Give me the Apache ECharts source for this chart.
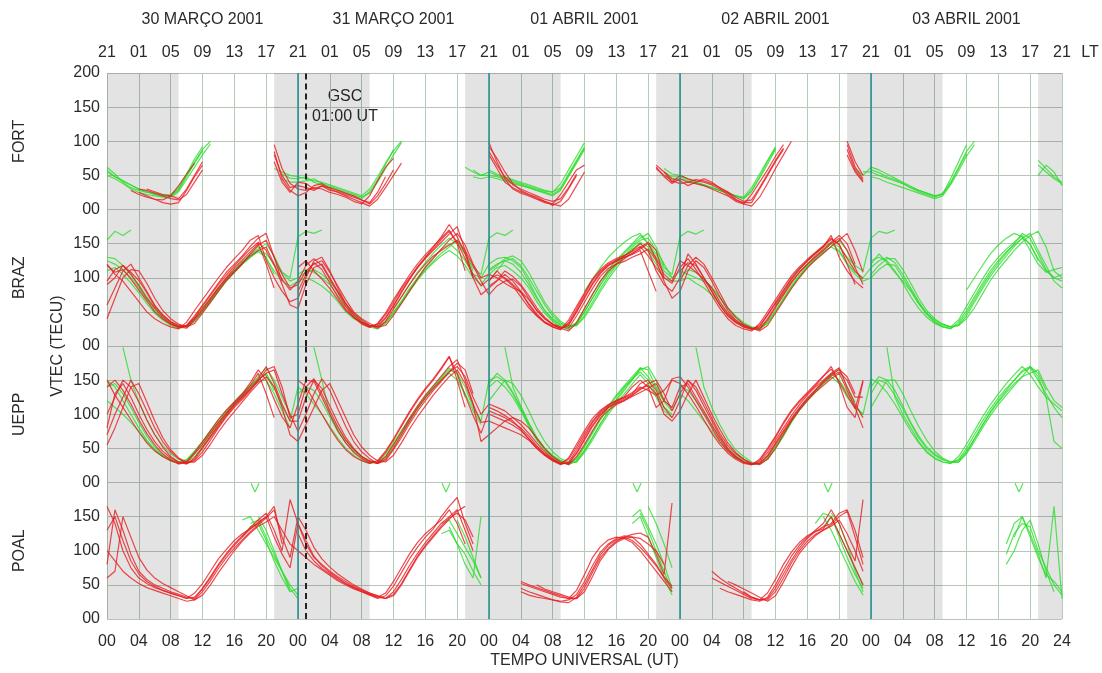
<!DOCTYPE html>
<html><head><meta charset="utf-8">
<script src="https://cdn.jsdelivr.net/npm/echarts@6/dist/echarts.min.js"></script>
<style>html,body{margin:0;padding:0;background:#fff}#c{width:1102px;height:673px}</style>
</head><body><div id="c"></div>
<script>
const _ = null;
const DAY_LABELS = ['30 MARÇO 2001','31 MARÇO 2001','01 ABRIL 2001','02 ABRIL 2001','03 ABRIL 2001'];
const DAY_CENTERS = [12,36,60,84,108];
const STATIONS = ['FORT','BRAZ','UEPP','POAL'];
const NIGHT = [[0,9],[21,33],[45,57],[69,81],[93,105],[117,120]];
const DAY_BOUNDS = [24,48,72,96];
const GSC_HOUR = 25;

// hourly VTEC values, one row per day (hour 0..23 of that day)
const FORT_RED = [
 [[_,_,_,28,22,18,15,14,20,35,52,68,_,_,_,_,_,_,_,_,_,95,60,38],
  [30,28,32,30,25,22,18,12,8,20,42,62,75,_,_,_,_,_,_,_,_,_,_,_],
  [98,70,45,30,24,20,15,10,8,22,40,58,65,_,_,_,_,_,_,_,_,60,50,42],
  [38,40,38,35,30,25,20,12,8,22,40,58,78,95,_,_,_,_,_,_,_,95,62,45]],
 [[_,_,_,_,25,20,15,10,8,10,28,48,65,_,_,_,_,_,_,_,_,85,45,28],
  [20,25,35,38,30,25,20,15,10,5,15,32,50,68,_,_,_,_,_,_,_,_,_,_],
  [92,75,55,38,28,22,18,12,8,5,15,35,55,_,_,_,_,_,_,_,_,_,55,45],
  [42,35,40,45,40,32,25,15,8,5,18,38,60,80,100,_,_,_,_,_,_,100,70,50]],
 [[_,_,_,_,_,30,26,22,20,16,30,50,70,_,_,_,_,_,_,_,_,70,40,25],
  [40,38,30,35,28,26,22,18,14,10,25,48,_,_,_,_,_,_,_,_,_,_,_,_],
  [80,60,40,32,26,22,16,12,6,12,30,50,_,_,_,_,_,_,_,_,_,65,55,40],
  [50,45,42,40,36,30,22,14,10,10,30,50,70,88,_,_,_,_,_,_,_,80,55,40]],
 [[_,_,_,_,30,28,24,20,16,14,22,40,58,_,_,_,_,_,_,_,_,80,50,32],
  [35,32,28,34,32,28,24,20,14,8,20,38,58,_,_,_,_,_,_,_,_,_,_,_],
  [85,65,48,36,30,25,20,15,12,16,32,52,_,_,_,_,_,_,_,_,_,62,48,38],
  [45,40,44,42,38,32,26,18,12,14,32,52,72,90,_,_,_,_,_,_,_,88,58,42]]
];
const FORT_GREEN = [
 [[62,52,40,32,28,25,24,22,20,30,50,70,88,100,_,_,_,_,_,_,_,60,55,50],
  [48,45,42,40,36,32,28,24,20,30,48,68,86,100,_,_,_,_,_,_,_,62,55,50],
  [55,50,46,42,38,34,30,27,25,38,58,78,98,_,_,_,_,_,_,_,_,_,50,45],
  [45,42,38,35,32,28,24,20,18,32,52,72,92,_,_,_,_,_,_,_,_,_,60,50],
  [62,58,52,46,40,34,28,24,20,22,45,70,95,_,_,_,_,_,_,_,_,72,60,48,40]],
 [[50,45,38,30,25,22,20,18,18,26,44,62,80,96,_,_,_,_,_,_,_,_,45,40],
  [40,42,45,38,34,30,26,22,18,24,40,60,80,98,_,_,_,_,_,_,_,_,48,45],
  [48,45,42,38,35,32,28,25,22,30,50,70,90,_,_,_,_,_,_,_,_,_,60,52],
  [50,45,40,36,32,28,24,20,16,26,46,66,88,_,_,_,_,_,_,_,_,_,_,55],
  [55,50,46,42,38,32,26,22,18,24,40,62,85,100,_,_,_,_,_,_,_,50,65,55,35]],
 [[58,48,42,36,30,26,22,20,22,32,52,74,92,_,_,_,_,_,_,_,_,_,_,_],
  [_,_,_,_,_,_,_,_,_,_,_,_,_,_,_,_,_,_,_,_,_,_,_,_],
  [58,52,48,44,40,36,32,28,26,32,52,72,92,_,_,_,_,_,_,_,_,_,_,_],
  [_,_,_,_,_,_,_,_,_,_,_,_,_,_,_,_,_,_,_,_,_,_,_,_],
  [48,45,40,36,32,28,24,20,16,20,36,56,78,95,_,_,_,_,_,_,_,_,_,_]],
 [[55,48,42,36,30,26,22,20,20,28,48,68,86,_,_,_,_,_,_,_,_,_,52,46],
  [45,48,40,36,32,28,24,20,16,26,44,66,88,_,_,_,_,_,_,_,_,_,58,50],
  [50,48,44,40,36,32,28,24,20,28,48,68,88,_,_,_,_,_,_,_,_,_,55,48],
  [48,44,40,36,32,28,24,20,16,28,48,70,90,_,_,_,_,_,_,_,_,_,_,_],
  [58,54,48,44,38,32,28,24,20,22,38,60,82,_,_,_,_,_,_,_,_,65,55,45,38]]
];
const BRAZ_RED = [
 [[95,112,118,105,88,70,55,42,33,28,30,42,58,74,90,104,117,130,142,152,140,118,98,82],
  [95,118,128,118,98,78,58,42,32,27,33,48,68,86,104,120,134,146,158,170,152,128,105,88],
  [98,104,100,90,78,62,47,35,28,24,38,58,78,98,112,122,128,133,138,146,132,115,100,92],
  [115,128,112,94,74,55,40,30,25,22,33,50,68,86,103,116,127,137,147,158,148,128,110,98]],
 [[120,105,95,80,65,50,40,33,28,25,35,52,68,84,100,115,128,140,155,162,125,100,80,65],
  [70,100,125,130,110,85,62,45,35,30,28,40,58,78,97,115,130,145,160,178,160,135,100,75],
  [85,95,105,95,80,60,45,35,30,26,30,50,72,92,108,118,125,132,140,150,140,110,90,80],
  [100,135,120,100,80,60,45,35,28,25,28,45,62,80,98,112,124,135,145,162,130,110,95,85]],
 [[60,85,110,120,100,80,60,45,35,28,26,38,52,68,84,98,110,122,132,140,145,120,90,60],
  [55,90,115,120,100,80,62,48,38,30,26,36,54,72,90,106,120,132,140,148,155,140,118,95],
  [75,88,95,98,88,70,52,40,32,28,26,44,64,84,102,114,120,124,130,135,142,125,95,70],
  [80,110,125,115,95,72,52,38,30,26,24,40,58,76,94,108,120,130,140,150,158,140,115,90]],
 [[40,70,100,112,110,92,70,52,40,32,28,33,48,64,80,96,108,120,135,148,155,130,105,85],
  [90,110,120,125,108,88,68,50,40,33,28,30,45,62,80,98,115,128,142,155,165,148,120,100],
  [105,100,92,85,80,68,52,40,32,26,22,34,55,76,95,110,120,128,136,142,150,128,105,95],
  [125,118,108,98,85,65,48,36,30,26,22,30,48,66,84,100,114,126,136,146,155,165,140,108]],
 [[118,108,112,98,82,66,50,40,32,27,29,40,54,70,86,100,114,126,138,150,120,85,_,_],
  [80,105,122,112,92,72,54,42,34,29,30,42,60,80,98,114,128,140,152,164,175,140,100,_],
  [95,110,98,88,72,56,44,34,28,24,34,54,76,96,110,120,126,130,134,140,110,80,_,_],
  [110,122,118,100,80,60,44,34,28,24,30,46,64,82,100,114,125,136,146,156,150,120,90,_]],
 [[90,100,118,108,96,78,58,46,36,30,30,44,60,76,92,108,120,132,146,158,165,130,95,_],
  [115,125,110,98,84,68,52,42,34,28,32,46,64,84,100,116,130,142,156,168,150,110,_,_],
  [88,96,110,102,90,74,56,42,32,26,32,50,70,90,106,118,124,130,135,144,152,140,100,_],
  [95,118,130,120,100,78,56,42,32,26,26,38,56,74,92,108,120,132,142,152,162,150,120,_]]
];
const BRAZ_GREEN = [
 [[155,168,162,170,_,_,_,_,_,_,_,_,50,64,80,95,108,120,130,140,135,120,108,100],
  [160,168,165,170,_,_,_,_,_,_,_,_,55,72,90,108,122,136,148,158,150,135,115,105],
  [158,166,162,170,_,_,_,_,_,_,_,_,80,98,115,130,142,152,160,165,150,135,115,105],
  [160,168,164,170,_,_,_,_,_,_,_,_,60,78,96,112,125,135,145,152,145,130,118,110],
  [158,168,165,170,_,_,_,_,_,_,_,_,82,100,118,135,148,158,165,160,140,120,108,112,115]],
 [[125,120,112,100,85,68,52,40,32,28,30,40,55,70,85,100,112,124,134,142,150,132,108,95],
  [100,108,112,105,95,80,62,47,36,30,28,36,50,66,84,100,116,130,142,150,140,125,105,100],
  [120,128,130,125,115,95,72,52,38,30,26,35,55,75,95,112,126,138,150,162,150,130,110,100],
  [110,105,100,95,85,70,55,42,32,27,25,36,52,70,88,104,118,130,140,150,140,122,108,100],
  [115,125,130,122,105,85,65,48,36,30,28,38,58,78,98,116,130,142,152,162,148,128,110,100,105]],
 [[110,115,105,92,78,62,48,38,30,26,28,38,50,66,82,96,110,122,134,146,128,110,95,88],
  [95,100,95,88,78,65,50,40,34,28,25,33,48,64,80,96,110,122,132,140,132,118,100,90],
  [105,115,118,110,100,85,65,48,36,28,24,32,50,70,90,106,120,132,142,150,138,120,100,95],
  [95,100,92,85,75,62,48,38,30,26,24,34,50,68,86,102,116,128,138,145,138,120,105,95],
  [100,112,120,118,100,82,62,46,35,28,25,35,52,72,92,110,125,138,148,158,165,140,118,95,85]],
 [[_,_,_,_,_,_,_,_,_,_,_,_,_,_,_,_,_,_,_,_,_,_,_,_],
  [_,_,_,_,_,_,_,_,_,_,_,_,_,_,_,_,_,_,_,_,_,_,_,_],
  [95,110,125,128,118,100,80,60,44,34,28,30,45,64,84,102,118,132,145,155,158,140,120,100],
  [_,_,_,_,_,_,_,_,_,_,_,_,_,_,_,_,_,_,_,_,_,_,_,_],
  [125,130,125,110,92,72,55,42,33,28,26,32,48,68,88,106,122,136,150,165,158,135,112,100,95]],
 [[130,128,118,105,90,72,56,44,35,30,28,36,50,66,82,96,108,120,130,138,130,105,_,_],
  [105,112,108,100,90,74,58,46,36,30,28,34,48,64,82,98,112,124,136,145,155,135,110,_],
  [112,120,125,120,108,90,70,52,40,32,28,33,50,70,90,108,122,136,148,158,165,145,118,_],
  [100,112,108,98,86,72,56,44,34,28,26,33,50,68,86,102,116,126,136,146,155,140,115,_],
  [105,118,128,128,112,92,70,52,40,32,28,30,44,64,84,102,118,132,146,158,150,125,_,_,_]],
 [[_,_,_,_,_,_,_,_,_,_,_,_,_,_,_,_,_,_,_,_,_,_,_,_],
  [_,_,_,_,_,_,_,_,_,_,_,_,_,_,_,_,_,_,_,_,_,_,_,_],
  [110,118,128,132,125,108,86,64,48,36,30,30,42,60,80,98,114,128,140,152,145,128,_,_],
  [_,_,_,_,_,_,_,_,_,_,_,_,_,_,_,_,_,_,_,_,_,_,_,_],
  [120,135,122,108,95,80,62,48,38,32,28,30,40,56,76,96,112,126,140,152,162,168,145,110,100]]
];
const UEPP_RED = [
 [[140,150,135,115,92,72,55,42,33,27,30,44,60,76,92,106,118,130,146,165,150,122,96,80],
  [115,150,148,125,100,76,58,44,35,29,30,44,62,82,102,120,136,150,166,184,160,128,98,72],
  [105,100,95,88,80,68,54,42,33,27,36,56,76,94,106,114,120,125,132,140,135,128,135,150],
  [145,130,112,92,72,56,43,34,28,26,34,50,68,88,106,120,132,144,156,166,148,128,108,150]],
 [[100,125,150,140,118,92,70,52,38,30,27,36,52,68,85,100,114,126,138,152,170,145,115,90],
  [90,125,150,138,112,88,66,50,38,31,28,38,55,74,94,112,128,142,156,170,180,150,115,88],
  [90,85,80,75,70,62,50,40,32,26,30,48,68,88,102,112,118,124,130,145,150,135,110,95],
  [120,150,135,112,90,68,50,38,30,26,30,44,62,80,98,114,128,140,150,160,168,140,115,95]],
 [[70,100,125,150,130,105,80,60,45,35,28,32,45,62,80,96,110,122,135,150,160,165,130,100],
  [75,100,130,152,135,108,82,60,45,35,28,32,48,66,86,104,120,135,148,162,170,155,125,100],
  [115,110,105,95,85,72,58,45,35,28,28,42,62,82,98,110,116,120,126,132,138,145,120,110],
  [140,145,125,105,84,64,48,38,30,27,28,38,56,74,92,108,122,134,146,156,162,150,125,125]],
 [[55,80,110,140,145,118,90,66,48,36,30,30,40,56,74,90,104,118,132,145,155,140,110,70],
  [60,85,110,135,145,120,95,70,52,40,32,30,40,58,78,96,112,128,142,155,165,145,115,60],
  [70,80,90,95,90,80,65,50,38,30,26,38,56,76,94,106,114,120,128,138,142,130,100,90],
  [105,130,150,125,100,78,58,44,34,28,26,34,50,70,90,106,120,132,142,152,160,135,110,80]],
 [[150,128,110,92,74,58,46,38,32,28,30,42,56,72,88,102,116,128,142,160,130,95,_,_],
  [150,140,120,100,80,62,48,38,32,28,32,46,64,84,104,122,138,152,168,185,150,110,_,_],
  [110,105,98,90,78,64,50,40,32,27,34,52,72,90,104,114,120,126,140,150,140,110,120,152],
  [155,140,120,100,80,60,46,36,30,26,32,48,66,86,104,118,130,142,155,170,145,110,95,148]],
 [[80,130,145,125,100,78,60,46,36,30,28,34,50,66,82,98,112,124,136,148,165,170,140,95],
  [100,140,152,130,105,82,62,48,38,32,28,34,50,70,90,108,124,138,150,162,175,165,130,_],
  [100,95,90,84,76,64,52,42,34,28,28,44,64,84,100,110,116,122,128,136,145,150,130,105],
  [130,150,140,118,94,72,54,42,34,28,28,40,58,76,94,110,124,136,148,158,166,155,130,_]]
];
const UEPP_GREEN = [
 [[_,_,198,150,118,92,70,54,42,34,30,38,52,68,84,100,114,126,140,155,168,150,125,100],
  [_,_,198,150,100,80,62,48,38,30,28,36,52,70,90,108,124,138,150,160,150,130,105,85],
  [_,_,198,140,112,88,66,50,38,30,27,36,54,74,94,112,128,142,155,168,155,138,120,110],
  [_,_,198,140,110,85,64,48,38,30,27,35,52,70,90,108,122,135,148,160,150,132,112,100],
  [_,_,198,125,100,80,60,46,36,30,28,38,56,76,96,114,130,145,158,170,158,140,125,115,105]],
 [[150,140,120,100,80,62,48,38,32,28,32,45,60,76,92,106,118,130,142,150,160,140,112,90],
  [140,130,115,100,82,65,50,40,32,28,30,42,58,76,94,110,126,140,152,165,160,140,110,90],
  [150,155,148,130,108,85,64,48,36,30,26,32,48,66,86,104,120,135,150,168,165,140,118,105],
  [130,120,105,90,75,60,46,36,30,27,28,38,54,72,90,106,120,132,144,155,145,125,110,100],
  [152,145,132,115,95,75,58,44,35,30,28,34,50,70,90,108,124,138,150,162,168,150,130,110,95]],
 [[120,110,100,88,75,60,48,38,32,30,34,46,60,74,88,102,114,126,138,148,150,130,105,80],
  [_,_,_,_,_,_,_,_,_,_,_,_,_,_,_,_,_,_,_,_,_,_,_,_],
  [140,150,140,125,105,82,62,48,38,32,28,34,52,72,92,110,126,140,152,162,150,130,110,100],
  [_,_,_,_,_,_,_,_,_,_,_,_,_,_,_,_,_,_,_,_,_,_,_,_],
  [130,150,145,128,108,86,65,50,40,33,30,32,46,64,84,102,118,132,145,155,160,165,140,120,110]],
 [[_,_,_,_,_,_,_,_,_,_,_,_,_,_,_,_,_,_,_,_,_,_,_,_],
  [_,_,_,_,_,_,_,_,_,_,_,_,_,_,_,_,_,_,_,_,_,_,_,_],
  [120,135,150,145,128,105,80,60,45,35,30,30,44,62,82,100,116,130,144,158,145,125,105,95],
  [_,_,_,_,_,_,_,_,_,_,_,_,_,_,_,_,_,_,_,_,_,_,_,_],
  [110,130,150,150,130,105,82,62,46,36,30,30,42,60,80,98,114,128,142,155,170,155,125,60,50]],
 [[140,145,130,110,88,68,52,40,34,30,32,42,56,72,88,104,118,130,142,152,158,135,_,_],
  [130,140,135,118,96,75,58,45,36,30,29,38,56,74,92,110,126,140,154,168,158,125,_,_],
  [145,160,150,132,110,86,65,50,40,32,28,30,46,66,86,104,122,138,152,165,170,150,120,_],
  [140,135,120,102,84,66,50,40,32,28,27,34,50,68,88,106,120,134,146,158,165,140,118,_],
  [140,155,150,135,112,88,68,52,42,34,30,30,44,64,84,104,120,135,150,164,170,160,135,_,_]]
];
const POAL_RED = [
 [[165,140,100,75,60,52,46,42,38,34,30,38,52,70,88,102,115,125,132,140,150,120,95,75],
  [140,110,90,80,70,62,55,48,42,36,32,38,55,75,95,112,125,135,145,160,140,110,_,_],
  [_,_,_,_,52,48,44,40,36,32,30,42,65,90,106,116,120,118,112,100,85,70,55,40],
  [_,_,_,_,60,54,48,42,36,30,28,38,58,80,98,112,122,128,132,150,125,100,75,50]],
 [[80,160,130,95,70,58,50,45,40,36,32,30,45,62,80,96,110,122,134,145,155,130,100,175],
  [140,115,92,78,68,60,52,46,40,35,30,34,48,68,88,105,120,132,150,165,178,140,110,_],
  [_,_,_,_,40,35,32,30,28,26,28,36,55,78,98,110,118,122,120,110,95,80,60,45],
  [_,_,_,_,_,45,40,36,32,28,26,32,50,72,92,108,120,130,140,160,140,110,85,175]],
 [[100,85,70,60,52,46,42,38,34,30,26,28,40,56,74,90,104,116,128,138,148,160,120,90],
  [150,130,105,88,76,66,58,50,44,38,34,30,40,58,78,96,112,126,140,150,160,130,100,_],
  [_,_,_,_,55,50,46,42,38,34,30,30,45,68,90,104,114,120,124,126,120,95,65,170],
  [_,_,_,_,_,_,_,_,40,32,28,30,45,66,86,104,118,128,135,140,155,160,130,90]],
 [[60,70,150,120,90,72,60,52,46,40,34,28,35,50,68,84,100,114,126,136,142,150,130,110],
  [100,90,80,72,64,56,50,44,40,36,32,30,36,52,72,92,108,122,136,148,155,145,120,_],
  [_,_,_,_,45,40,36,32,28,25,24,32,50,72,94,108,116,120,115,105,92,78,62,48],
  [_,_,_,_,70,60,52,45,38,32,28,28,40,60,82,100,114,124,130,136,145,125,100,70]],
 [[130,150,115,85,66,55,48,42,38,34,30,32,44,60,78,94,108,120,132,142,150,165,110,_],
  [125,100,85,74,66,58,52,46,42,38,34,30,34,50,70,90,106,120,134,146,158,165,_,_],
  [_,_,_,_,_,_,50,44,40,36,32,30,40,62,86,102,112,118,120,118,110,100,80,_],
  [_,_,_,_,_,_,55,50,44,38,32,26,34,54,76,96,110,122,130,138,150,158,120,80]]
];
const POAL_GREEN = [
 [[_,_,_,_,_,_,_,_,_,_,_,_,_,_,_,_,_,145,150,130,110,90,70,50],
  [35,_,_,_,_,_,_,_,_,_,_,_,_,_,_,_,_,_,140,145,125,105,85,60],
  [_,_,_,_,_,_,_,_,_,_,_,_,_,_,_,_,_,_,150,160,135,110,80,45],
  [_,_,_,_,_,_,_,_,_,_,_,_,_,_,_,_,_,140,155,150,125,100,75,50],
  [_,_,_,_,_,_,_,_,_,_,_,_,_,_,_,_,_,110,140,150,120,90,65,55,40]],
 [[_,_,_,_,_,_,_,_,_,_,_,_,_,_,_,_,_,_,140,145,120,95,70,45],
  [30,_,_,_,_,_,_,_,_,_,_,_,_,_,_,_,_,_,_,135,110,80,60,150],
  [_,_,_,_,_,_,_,_,_,_,_,_,_,_,_,_,_,_,_,155,130,100,70,40],
  [_,_,_,_,_,_,_,_,_,_,_,_,_,_,_,_,_,_,150,130,105,80,55,35],
  [_,_,_,_,_,_,_,_,_,_,_,_,_,_,_,_,_,_,120,150,125,95,60,165,30]],
 [[_,_,_,_,_,_,_,_,_,_,_,_,_,_,_,_,_,_,_,150,130,100,70,40],
  [_,_,_,_,_,_,_,_,_,_,_,_,_,_,_,_,_,_,_,_,145,120,90,60],
  [_,_,_,_,_,_,_,_,_,_,_,_,_,_,_,_,_,_,_,_,165,140,110,75],
  [_,_,_,_,_,_,_,_,_,_,_,_,_,_,_,_,_,_,_,155,140,110,70,40],
  [_,_,_,_,_,_,_,_,_,_,_,_,_,_,_,_,_,80,100,130,145,110,70,40]],
 [[_,_,_,_,_,_,_,_,_,_,_,_,_,_,_,_,_,120,135,140,115,85,60,40],
  [45,_,_,_,_,_,_,_,_,_,_,_,_,_,_,_,_,_,125,130,110,95,70,50],
  [_,_,_,_,_,_,_,_,_,_,_,_,_,_,_,_,_,_,140,150,120,90,60,35],
  [_,_,_,_,_,_,_,_,_,_,_,_,_,_,_,_,_,_,135,150,120,90,65,45],
  [_,_,_,_,_,_,_,_,_,_,_,_,_,_,_,_,_,95,125,140,135,100,75,50,35]]
];
// small green "V" traces near the top of the POAL panel: [hour, value]
const POAL_V = [[18.1,199],[18.6,186],[19.1,199],[19.2,'-'],
  [42.1,199],[42.6,186],[43.1,199],[43.2,'-'],
  [66.1,199],[66.6,186],[67.1,199],[67.2,'-'],
  [90.1,199],[90.6,186],[91.1,199],[91.2,'-'],
  [114.1,199],[114.6,186],[115.1,199]];

const RED = 'rgba(232,28,32,0.8)';
const GREEN = 'rgba(40,220,40,0.78)';
const FONT = {fontFamily:'Liberation Sans, Arial, sans-serif', fontSize:16, color:'#2a2a2a'};
const pad = v => (v < 10 ? '0' : '') + v;

function toXY(rows){
  const out = [];
  rows.forEach((row, d) => row.forEach((v, i) => out.push([d*24 + i, v == null ? '-' : v])));
  return out;
}

const chart = echarts.init(document.getElementById('c'), null, {renderer:'canvas'});
const TOP = 73, H = 136.5;
const grids = [], xAxes = [], yAxes = [], series = [];
STATIONS.forEach((st, k) => {
  grids.push({left:107, width:955, top: TOP + k*H, height: H});
  xAxes.push({type:'value', gridIndex:k, min:0, max:120, interval:4,
    axisLine:{show:false}, axisTick:{show:false},
    axisLabel: k === 3 ? Object.assign({show:true, margin:15, formatter: v => v === 120 ? '24' : pad(v % 24)}, FONT) : {show:false},
    name: k === 3 ? 'TEMPO UNIVERSAL (UT)' : '', nameLocation:'middle', nameGap:34, nameTextStyle: FONT,
    splitLine:{show:true, lineStyle:{color:'#b3cbb7', width:1}}});
  yAxes.push({type:'value', gridIndex:k, min:0, max:200, interval:50,
    axisLine:{show:false}, axisTick:{show:false},
    axisLabel: Object.assign({margin:7, formatter: v => v === 0 ? '00' : (v === 200 && k > 0 ? '' : String(v))}, FONT),
    name: st, nameLocation:'middle', nameRotate:90, nameGap:79, nameTextStyle: FONT,
    splitLine:{show:true, lineStyle:{color:'#b9c5bb', width:1}}});
  series.push({type:'line', xAxisIndex:k, yAxisIndex:k, data:[], silent:true, z:1,
    markArea:{silent:true, itemStyle:{color:'rgba(0,0,0,0.11)'}, data: NIGHT.map(n => [{xAxis:n[0]},{xAxis:n[1]}])}});
  series.push({type:'line', xAxisIndex:k, yAxisIndex:k, data:[], silent:true, z:6,
    markLine:{silent:true, symbol:'none', label:{show:false}, animation:false,
      data: DAY_BOUNDS.map(b => ({xAxis:b, lineStyle:{color:'#1f8f8f', width:1.5, type:'solid'}}))
        .concat([{xAxis:GSC_HOUR, lineStyle:{color:'#222', width:2, type:[6,4]}}])}});
});
function addLines(sets, k, color){
  sets.forEach(rows => series.push({type:'line', xAxisIndex:k, yAxisIndex:k, data: toXY(rows),
    showSymbol:false, symbol:'none', connectNulls:false, silent:true, z:3,
    lineStyle:{color, width:1.2}}));
}
addLines(FORT_GREEN, 0, GREEN); addLines(FORT_RED, 0, RED);
addLines(BRAZ_GREEN, 1, GREEN); addLines(BRAZ_RED, 1, RED);
addLines(UEPP_GREEN, 2, GREEN); addLines(UEPP_RED, 2, RED);
addLines(POAL_GREEN, 3, GREEN); addLines(POAL_RED, 3, RED);
series.push({type:'line', xAxisIndex:3, yAxisIndex:3, data:POAL_V, showSymbol:false, symbol:'none',
  connectNulls:false, silent:true, z:3, lineStyle:{color:GREEN, width:1.2}});

xAxes.push({type:'value', gridIndex:0, position:'top', min:0, max:120, interval:4,
  axisLine:{show:false}, axisTick:{show:false}, splitLine:{show:false},
  axisLabel: Object.assign({margin:12, formatter: v => pad(((v % 24) - 3 + 24) % 24)}, FONT)});
xAxes.push({type:'value', gridIndex:0, position:'top', min:0, max:120,
  axisLine:{show:false}, axisTick:{show:false}, splitLine:{show:false},
  axisLabel: Object.assign({margin:45, customValues: DAY_CENTERS, formatter: v => DAY_LABELS[DAY_CENTERS.indexOf(v)] || ''}, FONT)});

const TXT = '16px Liberation Sans, Arial, sans-serif';
chart.setOption({
  animation:false,
  backgroundColor:'#fff',
  grid: grids, xAxis: xAxes, yAxis: yAxes, series,
  graphic:[
    {type:'text', x:58, y:346, rotation:Math.PI/2, style:{text:'VTEC (TECU)', textAlign:'center', textVerticalAlign:'middle', fill:'#2a2a2a', font:TXT}},
    {type:'text', x:1090, y:53, style:{text:'LT', textAlign:'center', textVerticalAlign:'middle', fill:'#2a2a2a', font:TXT}},
    {type:'text', x:345, y:97, style:{text:'GSC', textAlign:'center', textVerticalAlign:'middle', fill:'#2a2a2a', font:TXT}},
    {type:'text', x:345, y:117, style:{text:'01:00 UT', textAlign:'center', textVerticalAlign:'middle', fill:'#2a2a2a', font:TXT}}
  ]
});
</script></body></html>
